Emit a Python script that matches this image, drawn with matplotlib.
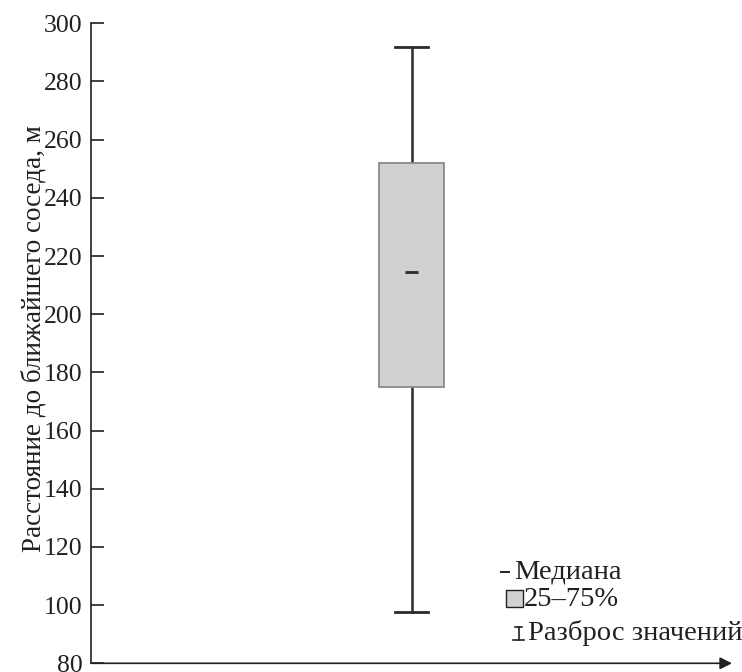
import matplotlib.pyplot as plt
from matplotlib.lines import Line2D
from matplotlib.patches import Rectangle

# box statistics (m)
median = 214.5
q1 = 175
q3 = 252
whisker_low = 97.5
whisker_high = 292

y_ticks = list(range(80, 301, 20))
y_label = "Расстояние до ближайшего соседа, м"
legend_labels = ["Медиана", "25\u201375%", "Разброс значений"]

plt.rcParams['font.family'] = ['Liberation Serif', 'DejaVu Serif']

W, H = 742, 672
fig = plt.figure(figsize=(W / 100, H / 100), dpi=100)


def px(x, y):
    # pixel position (from top-left) -> figure fraction
    return x / W, 1 - y / H


ax = fig.add_axes([91 / W, 1 - 663.3 / H, (732 - 91) / W, (663.3 - 23.3) / H])

stats = [dict(med=median, q1=q1, q3=q3, whislo=whisker_low, whishi=whisker_high, fliers=[])]
parts = ax.bxp(stats, positions=[1], widths=0.203, capwidths=0.1, patch_artist=True,
               showfliers=False,
               boxprops=dict(facecolor='#d1d1d3', edgecolor='#8a8a8a', linewidth=1.3),
               whiskerprops=dict(color='#2b2b2b', linewidth=1.8),
               capprops=dict(color='#2b2b2b', linewidth=2.0),
               medianprops=dict(color='#2b2b2b', linewidth=2.0))
for m in parts['medians']:
    m.set_xdata([1 - 0.02, 1 + 0.02])
for w in parts['whiskers']:
    w.set_zorder(1)

ax.set_xlim(0, 2)
ax.set_ylim(80, 300)
ax.set_yticks(y_ticks)
ax.set_xticks([])
ax.tick_params(axis='y', direction='in', length=9, width=1.2, labelsize=18.5, pad=6,
               colors='#231f20')
ax.set_ylabel(y_label, fontsize=19.5, color='#231f20', labelpad=8)
ax.yaxis.set_label_coords(-0.07, 0.508)

for s in ['top', 'right', 'bottom']:
    ax.spines[s].set_visible(False)
ax.spines['left'].set_linewidth(1.2)
ax.spines['left'].set_color('#231f20')
ax.annotate('', xy=(1.0, 0), xytext=(0, 0), xycoords='axes fraction',
            arrowprops=dict(arrowstyle='-|>', color='#231f20', lw=1.2,
                            mutation_scale=18, shrinkA=0, shrinkB=0))

# hand-made legend in the lower right
ink = '#231f20'
fs = 20.5
fig.add_artist(Line2D(*zip(px(501, 572), px(509, 572)), color=ink, lw=1.4))
fig.text(*px(514, 572), legend_labels[0], fontsize=fs, va='center', ha='left', color=ink)

x0, y0 = px(506, 607)
x1, y1 = px(523, 590)
fig.add_artist(Rectangle((x0, y0), x1 - x0, y1 - y0, transform=fig.transFigure,
                         facecolor='#d1d1d3', edgecolor=ink, lw=1.0))
fig.text(*px(524, 599), legend_labels[1], fontsize=fs, va='center', ha='left', color=ink)

fig.add_artist(Line2D(*zip(px(515, 627), px(522, 627)), color=ink, lw=1.2))
fig.add_artist(Line2D(*zip(px(518.5, 627), px(518.5, 640)), color=ink, lw=1.2))
fig.add_artist(Line2D(*zip(px(513, 640), px(524, 640)), color=ink, lw=1.2))
fig.text(*px(528, 633), legend_labels[2], fontsize=fs, va='center', ha='left', color=ink)

fig.savefig('out.png', dpi=100)
